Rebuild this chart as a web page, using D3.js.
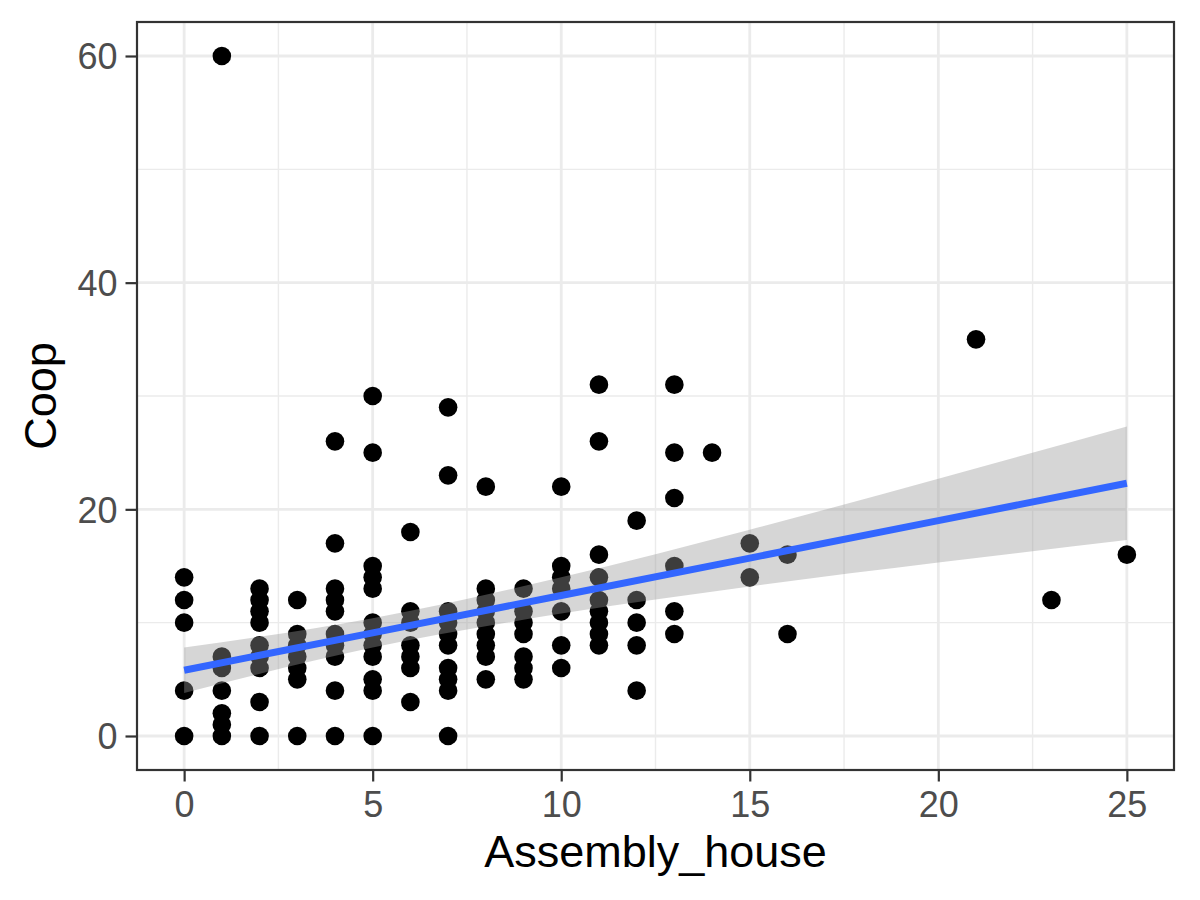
<!DOCTYPE html>
<html lang="en">
<head>
    <meta charset="UTF-8">
    <title>Coop vs Assembly_house</title>
    <script src="https://d3js.org/d3.v7.min.js"></script>
    <style>
        body { margin: 0; background: #fff; }
        text { font-family: Arial, "Liberation Sans", sans-serif; }
        .grid-major { stroke: #EBEBEB; stroke-width: 2.8px; }
        .grid-minor { stroke: #EBEBEB; stroke-width: 1.4px; }
        .tick-label { fill: #4D4D4D; font-size: 36px; }
        .axis-title { fill: #000; font-size: 45px; }
    </style>
</head>
<body>
    <svg width="1200" height="900"></svg>
    <script>
        // Assembly_house value per column, and the Coop values observed at it
        const houses = [0, 1, 2, 3, 4, 5, 6, 7, 8, 9, 10, 11, 12, 13, 14, 15, 16, 21, 23, 25];
        const coopAt = [
            [14, 12, 10, 4, 0],
            [60, 7, 6, 4, 2, 1, 0],
            [13, 12, 11, 10, 8, 7, 6, 3, 0],
            [12, 9, 8, 7, 6, 5, 0],
            [26, 17, 13, 12, 11, 9, 8, 7, 4, 0],
            [30, 25, 15, 14, 13, 10, 9, 8, 7, 5, 4, 0],
            [18, 11, 10, 8, 7, 6, 3],
            [29, 23, 11, 10, 9, 8, 6, 5, 4, 0],
            [22, 13, 12, 11, 10, 9, 8, 7, 5],
            [13, 11, 10, 9, 7, 6, 5],
            [22, 15, 14, 13, 11, 8, 6],
            [31, 26, 16, 14, 12, 11, 10, 9, 8],
            [19, 12, 10, 8, 4],
            [31, 25, 21, 15, 11, 9],
            [25],
            [17, 14],
            [16, 9],
            [35],
            [12],
            [16]
        ];
        // fitted line and its confidence band
        const fitX  = [0, 5, 10, 15, 20, 25];
        const fitY  = [5.8, 9.1, 12.4, 15.7, 19.0, 22.3];
        const fitLo = [3.8, 7.8, 10.8, 13.2, 15.3, 17.3];
        const fitHi = [7.8, 10.4, 14.0, 18.2, 22.7, 27.3];

        const xTicks = [0, 5, 10, 15, 20, 25];
        const yTicks = [0, 20, 40, 60];
        const xMinor = [2.5, 7.5, 12.5, 17.5, 22.5];
        const yMinor = [10, 30, 50];

        const points = [];
        houses.forEach((h, i) => coopAt[i].forEach(c => points.push({ x: h, y: c })));
        const fit = fitX.map((v, i) => ({ x: v, y: fitY[i], lo: fitLo[i], hi: fitHi[i] }));

        const panel = { left: 137, right: 1174, top: 22, bottom: 770 };
        const svg = d3.select("svg");

        // ggplot-like 5% expansion
        const xr = d3.extent(points, d => d.x), yr = d3.extent(points, d => d.y);
        const xe = (xr[1] - xr[0]) * 0.05, ye = (yr[1] - yr[0]) * 0.05;
        const x = d3.scaleLinear().domain([xr[0] - xe, xr[1] + xe]).range([panel.left, panel.right]);
        const y = d3.scaleLinear().domain([yr[0] - ye, yr[1] + ye]).range([panel.bottom, panel.top]);

        const g = svg.append("g");
        g.selectAll(".grid-minor-x").data(xMinor).enter().append("line")
            .attr("class", "grid-minor")
            .attr("x1", d => x(d)).attr("x2", d => x(d))
            .attr("y1", panel.top).attr("y2", panel.bottom);
        g.selectAll(".grid-minor-y").data(yMinor).enter().append("line")
            .attr("class", "grid-minor")
            .attr("x1", panel.left).attr("x2", panel.right)
            .attr("y1", d => y(d)).attr("y2", d => y(d));
        g.selectAll(".grid-major-x").data(xTicks).enter().append("line")
            .attr("class", "grid-major")
            .attr("x1", d => x(d)).attr("x2", d => x(d))
            .attr("y1", panel.top).attr("y2", panel.bottom);
        g.selectAll(".grid-major-y").data(yTicks).enter().append("line")
            .attr("class", "grid-major")
            .attr("x1", panel.left).attr("x2", panel.right)
            .attr("y1", d => y(d)).attr("y2", d => y(d));

        g.selectAll("circle").data(points).enter().append("circle")
            .attr("cx", d => x(d.x)).attr("cy", d => y(d.y))
            .attr("r", 9.3).attr("fill", "#000");

        g.append("path").datum(fit)
            .attr("fill", "#999999").attr("fill-opacity", 0.4)
            .attr("d", d3.area().curve(d3.curveMonotoneX)
                .x(d => x(d.x)).y0(d => y(d.lo)).y1(d => y(d.hi)));
        g.append("path").datum(fit)
            .attr("fill", "none").attr("stroke", "#3366FF").attr("stroke-width", 7)
            .attr("d", d3.line().x(d => x(d.x)).y(d => y(d.y)));

        g.append("rect")
            .attr("x", panel.left).attr("y", panel.top)
            .attr("width", panel.right - panel.left).attr("height", panel.bottom - panel.top)
            .attr("fill", "none").attr("stroke", "#333333").attr("stroke-width", 2.2);

        // axes
        const xAxis = d3.axisBottom(x).tickValues(xTicks).tickSize(11.5).tickPadding(10);
        const yAxis = d3.axisLeft(y).tickValues(yTicks).tickSize(11.5).tickPadding(8);
        const xa = svg.append("g").attr("transform", `translate(0,${panel.bottom})`).call(xAxis);
        const ya = svg.append("g").attr("transform", `translate(${panel.left},0)`).call(yAxis);
        [xa, ya].forEach(ax => {
            ax.select(".domain").remove();
            ax.selectAll(".tick line").attr("stroke", "#333333").attr("stroke-width", 2.2);
            ax.selectAll(".tick text").attr("class", "tick-label").attr("font-family", null).attr("font-size", null);
        });
        xa.selectAll(".tick text").attr("dy", "0.71em");
        ya.selectAll(".tick text").attr("dy", "0.36em");

        svg.append("text").attr("class", "axis-title")
            .attr("x", (panel.left + panel.right) / 2).attr("y", 867)
            .attr("text-anchor", "middle").text("Assembly_house");
        svg.append("text").attr("class", "axis-title")
            .attr("transform", `translate(56,${(panel.top + panel.bottom) / 2}) rotate(-90)`)
            .attr("text-anchor", "middle").text("Coop");
    </script>
</body>
</html>
